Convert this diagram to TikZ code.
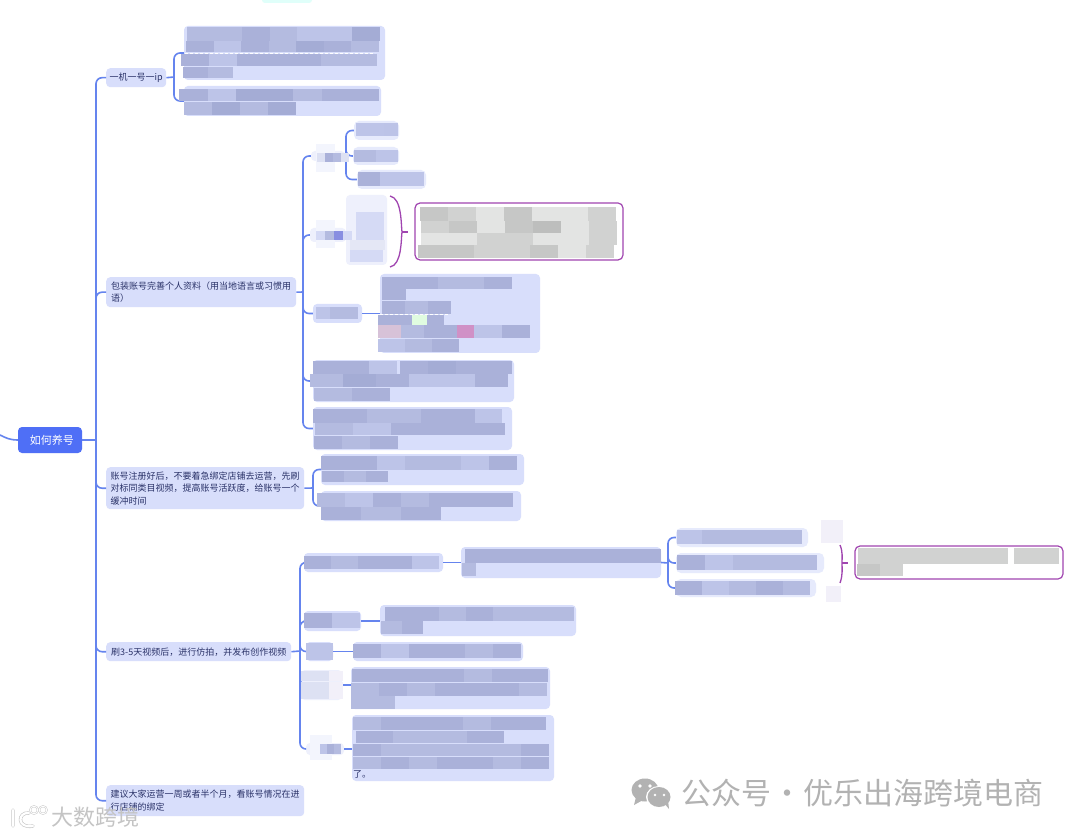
\documentclass[tikz,border=0pt]{standalone}
\usepackage{fontspec}
\setmainfont{Noto Sans CJK SC}
\usetikzlibrary{fit}
\definecolor{linkblue}{HTML}{6584EE}
\definecolor{boxblue}{HTML}{D8DEFB}
\definecolor{rootblue}{HTML}{4F6FF6}
\definecolor{faintbox}{HTML}{EEF0FC}
\definecolor{inktext}{HTML}{2A3268}
\definecolor{plum}{HTML}{A045B0}
\definecolor{pa}{HTML}{AAB1D9}
\definecolor{pb}{HTML}{B4BBE0}
\definecolor{pc}{HTML}{BDC4E8}
\definecolor{pd}{HTML}{A4ACD5}
\definecolor{fa}{HTML}{DDE1F3}
\definecolor{fb}{HTML}{F2F0F9}
\definecolor{fc}{HTML}{D5DAF5}
\definecolor{ga}{HTML}{C6C7C6}
\definecolor{gb}{HTML}{D1D2D1}
\definecolor{gc}{HTML}{E3E4E3}
\definecolor{gd}{HTML}{BDBEBD}
\definecolor{wmgray}{HTML}{B2B2B2}
\definecolor{wmedge}{HTML}{C4C4C4}
\tikzset{
  conn/.style={draw=linkblue,line width=1.6pt,rounded corners=6pt},
  stub/.style={draw=linkblue,line width=1.6pt},
  plumline/.style={draw=plum,line width=1.3pt},
  box/.style={fill=boxblue,rounded corners=4pt,inner sep=0pt},
  faint/.style={fill=faintbox,rounded corners=4pt,inner sep=0pt},
  palebox/.style={fill=boxblue!65,rounded corners=5pt,inner sep=0pt},
  sumbox/.style={draw=plum,line width=1.2pt,fill=white,rounded corners=5pt,inner sep=0pt},
  tbox/.style={fill=boxblue,rounded corners=4pt,anchor=north west,inner xsep=1.5pt,inner ysep=2pt,
     font=\fontsize{9}{12.5}\selectfont,text=inktext,align=left},
  rootbox/.style={fill=rootblue,rounded corners=4pt,inner sep=0pt},
}
\newcommand{\bx}[6][box]{\node[#1,fit={(#3,#4)(#5,#6)}] (#2) {};}
\newcommand{\cellrow}[5]{\foreach \c [count=\i from 0] in {#5}
  \fill[\c] ({#1+\i*#4},#2) rectangle ({#1+(\i+1)*#4},#3);}
\begin{document}
\begin{tikzpicture}[x=1pt,y=-1pt]
\useasboundingbox (0,0) rectangle (1080,837);
\fill[white] (0,0) rectangle (1080,837);
\bx[fill=green!15!cyan!12!white,rounded corners=3pt,inner sep=0pt]{topfrag}{262}{-4}{312}{3}
% root and first-level nodes
\node[rootbox,fit={(18,427)(82,453)}] (root) {};
\node[text=white,font=\fontsize{11}{13}\selectfont] (roottext) at (52,440) {如何养号};
\coordinate (rootin) at (0,435);
\coordinate (hubA) at (96,440);
\node[tbox,minimum width=60pt,minimum height=19pt,inner xsep=1pt] (n1) at (106,68) {一机一号一ip};
\node[tbox,minimum width=190pt,minimum height=30pt] (n2) at (106,277) {包装账号完善个人资料（用当地语言或习惯用\\语）};
\node[tbox,minimum width=198pt,minimum height=42pt] (n3) at (106,467) {账号注册好后，不要着急绑定店铺去运营，先刷\\对标同类目视频，提高账号活跃度，给账号一个\\缓冲时间};
\node[tbox,minimum width=185pt,minimum height=19pt] (n4) at (106,642) {刷3-5天视频后，进行仿拍，并发布创作视频};
\node[tbox,minimum width=198pt,minimum height=31pt] (n5) at (106,785) {建议大家运营一周或者半个月，看账号情况在进\\行店铺的绑定};
% branch 1
\bx{n11}{184}{26}{385}{80}
\bx{n12}{184}{86}{381}{116}
% branch 2
\bx[faint]{n21}{311}{151}{345}{161}
\fill[faintbox!70] (316,144) rectangle (335,172);
\bx[palebox]{n211}{354}{121}{399}{140}
\bx[palebox]{n212}{353}{147}{399}{165}
\bx[palebox]{n213}{357}{170}{426}{189}
\bx[faint]{n22}{310}{228}{346}{242}
\fill[faintbox!70] (316,220) rectangle (335,248);
\bx[faint]{n22c}{346}{195}{387}{265}
\bx[sumbox]{n22s}{415}{203}{623}{260}
\bx{n23}{313}{304}{362}{323}
\bx{n23c}{380}{274}{540}{353}
\bx{n24}{313}{360}{514}{402}
\bx{n25}{313}{407}{512}{450}
% branch 3
\bx{n31}{321}{454}{524}{485}
\bx{n32}{321}{491}{521}{521}
% branch 4
\bx{n41}{304}{553}{443}{572}
\bx{n41c}{461}{547}{661}{578}
\bx[palebox]{n411}{676}{528}{808}{547}
\bx[palebox]{n412}{676}{553}{824}{573}
\bx[palebox]{n413}{676}{579}{816}{597}
\bx[sumbox]{n41s}{855}{546}{1063}{579}
\bx{n42}{304}{611}{361}{631}
\bx{n42c}{380}{605}{576}{636}
\bx{n43}{306}{642}{333}{661}
\bx{n43c}{353}{642}{523}{661}
\bx[faint]{n44}{301}{670}{342}{700}
\bx{n44c}{351}{667}{550}{709}
\bx[faint]{n45}{306}{743}{344}{755}
\fill[faintbox!70] (310,735) rectangle (332,760);
\bx{n45c}{352}{715}{554}{781}
% connectors
\draw[conn] (rootin) .. controls (6,438) and (10,440) .. (root.west);
\draw[stub] (root.east) -- (hubA);
\foreach \t in {n1,n2,n3,n4,n5} \draw[conn] (hubA) |- (\t.west);
\coordinate (hubB) at (174,77);
\draw[stub] (n1.east) -- (hubB);
\foreach \t in {n11,n12} \draw[conn] (hubB) |- (\t.west);
\coordinate (hubC) at (303,292);
\draw[stub] (n2.east) -- (hubC);
\foreach \t in {n21,n22,n23,n24,n25} \draw[conn] (hubC) |- (\t.west);
\coordinate (hubD) at (346,156);
\draw[stub] (n21.east) -- (hubD);
\foreach \t in {n211,n212,n213} \draw[conn] (hubD) |- (\t.west);
\draw[stub] (n23.east) -- (n23c.west |- n23.east);
\coordinate (hubE) at (313,488);
\draw[stub] (n3.east) -- (hubE);
\foreach \t in {n31,n32} \draw[conn] (hubE) |- (\t.west);
\coordinate (hubF) at (300,651);
\draw[stub] (n4.east) -- (hubF);
\foreach \t in {n41,n42,n43,n44,n45} \draw[conn] (hubF) |- (\t.west);
\draw[stub] (n41.east) -- (n41c.west |- n41.east);
\coordinate (hubG) at (668,563);
\draw[stub] (n41c.east) -- (hubG);
\foreach \t in {n411,n412,n413} \draw[conn] (hubG) |- (\t.west);
\draw[stub] (n42.east) -- (n42c.west |- n42.east);
\draw[stub] (n43.east) -- (n43c.west |- n43.east);
\draw[stub] (n44.east) -- (n44c.west |- n44.east);
\draw[stub] (n45.east) -- (n45c.west |- n45.east);
% summary braces
\coordinate (brA) at (408,232);
\draw[plumline] (390,196) .. controls (402,198) and (401,225) .. (402,232) .. controls (401,239) and (402,265) .. (390,267);
\draw[plumline] (402,232) -- (brA);
\coordinate (brB) at (848,563);
\draw[plumline] (840,545) .. controls (843,552) and (842,558) .. (842,563) .. controls (842,568) and (843,575) .. (840,583);
\draw[plumline] (842,563) -- (brB);
% blurred text: branch 1
\cellrow{187}{27}{41}{27.5}{pb,pb,pa,pb,pc,pc,pd}
\cellrow{186}{41}{52}{27.5}{pa,pc,pa,pb,pd,pa,pb}
\draw[white,densely dashed,line width=0.7pt] (185,53) -- (375,53);
\cellrow{181}{54}{66}{28}{pa,pc,pa,pa,pa,pb,pb}
\cellrow{183}{67}{78}{25}{pa,pb}
\cellrow{179}{89}{101}{28.5}{pa,pc,pd,pd,pb,pa,pa}
\cellrow{184}{102}{115}{28}{pb,pd,pb,pd}
% branch 2
\cellrow{317}{153}{162}{8}{fa,pa,pb,fa}
\cellrow{356}{123}{136}{28}{pc}
\fill[pc!85!pb] (384,123) rectangle (398,136);
\cellrow{354}{150}{162}{22}{pb,pc}
\cellrow{358}{172}{186}{22}{pa,pc,pc}
\cellrow{316}{231}{240}{9}{fc,pb,pa!80!blue,fc}
\fill[fc] (356,212) rectangle (384,240);
\fill[fa!80] (350,240) rectangle (385,250);
\fill[fc] (350,250) rectangle (383,262);
\cellrow{420}{207}{221}{28}{ga,gb,gc,ga,gc,gc,gb}
\cellrow{421}{221}{233}{28}{gb,ga,gc,ga,gd,gc,gb}
\cellrow{421}{233}{245}{28}{gc,gc,gb,gb,gc,gc,gb}
\cellrow{418}{245}{258}{28}{ga,ga,gb,gb,ga,gc,gb}
\cellrow{316}{307}{319}{14}{pc,pb,pb}
% n23c
\cellrow{382}{277}{289}{28}{pa,pa,pb}
\cellrow{456}{277}{289}{28}{pb,pa}
\cellrow{382}{289}{300}{24}{pa}
\cellrow{382}{301}{314}{23}{pa,pb,pa}
\draw[white,densely dashed,line width=0.6pt] (380,314) -- (450,314);
\cellrow{378}{315}{325}{22}{pa,pa,pa}
\fill[black!10!green!12!white] (412,315) rectangle (427,325);
\cellrow{378}{325}{338}{23}{pc!60!pink,pb,pa,pa}
\fill[magenta!28!pc] (457,325) rectangle (474,338);
\cellrow{474}{325}{338}{28}{pc,pa}
\cellrow{378}{339}{352}{27}{pc,pb,pa}
% n24
\cellrow{313}{361}{374}{28}{pa,pa,pc}
\cellrow{400}{361}{374}{28}{pa,pd,pa,pa}
\cellrow{310}{374}{387}{33}{pb,pd,pa,pc,pc,pa}
\cellrow{314}{388}{401}{38}{pb,pa}
% n25
\cellrow{313}{409}{423}{27}{pa,pa,pb,pb,pa,pa,pc}
\cellrow{315}{423}{435}{38}{pb,pc,pa,pa,pa}
\cellrow{314}{436}{449}{28}{pa,pb,pa}
% branch 3
\cellrow{321}{456}{470}{28}{pa,pa,pc,pb,pb,pc,pa}
\cellrow{322}{471}{482}{22}{pa,pb,pa}
\cellrow{317}{493}{507}{28}{pb,pc,pa,pb,pa,pa,pa}
\cellrow{321}{507}{520}{40}{pa,pb,pa}
% branch 4
\cellrow{304}{556}{569}{27}{pa,pb,pa,pa,pc}
\cellrow{465}{549}{563}{28}{pa,pa,pa,pa,pa,pa,pa}
\fill[pb] (462,563) rectangle (476,576);
\cellrow{677}{530}{544}{25}{pc,pb,pb,pb,pb}
\cellrow{677}{555}{570}{28}{pa,pc,pb,pb,pb}
\cellrow{675}{581}{595}{27}{pa,pc,pb,pa,pb}
\fill[fb] (821,520) rectangle (843,543);
\fill[fb] (826,586) rectangle (841,602);
\cellrow{858}{548}{564}{25}{gb,gb,gb,gb,gb,gb}
\fill[gb] (1014,548) rectangle (1059,564);
\cellrow{857}{564}{576}{23}{ga,gb}
\cellrow{304}{613}{628}{28}{pa,pc}
\cellrow{385}{607}{621}{27}{pa,pa,pb,pa,pb,pb,pb}
\cellrow{381}{621}{634}{21}{pb,pa}
\cellrow{306}{643}{660}{13.5}{pc,pc}
\cellrow{353}{644}{658}{28}{pa,pc,pa,pa,pb,pa}
\cellrow{301}{671}{681}{14}{fa,fa,fb}
\cellrow{301}{682}{699}{14}{fa,fa,fb}
\cellrow{352}{669}{682}{28}{pa,pa,pa,pa,pb,pa,pa}
\cellrow{351}{683}{696}{28}{pb,pa,pb,pa,pa,pa,pb}
\cellrow{351}{696}{709}{22}{pb,pb}
\cellrow{320}{744}{754}{7}{pc,pa,pb}
\cellrow{353}{717}{730}{27.5}{pb,pa,pa,pa,pb,pa,pa}
\cellrow{356}{731}{743}{37}{pa,pb,pb,pa}
\cellrow{353}{744}{756}{28}{pa,pb,pb,pb,pb,pb,pa}
\cellrow{353}{757}{769}{28}{pb,pa,pb,pa,pa,pb,pa}
\node[text=inktext,font=\fontsize{9}{11}\selectfont,anchor=west,inner sep=0pt] (tail) at (353,774) {了。};
% watermarks
\node[anchor=west,inner sep=0pt,font=\fontsize{30}{34}\selectfont,text=wmgray] (wmtext) at (681,793) {公众号\makebox[32pt][c]{·}优乐出海跨境电商};
\fill[wmgray] (645,790) ellipse (13.5 and 11.5);
\fill[wmgray] (636,797) -- (634,805) -- (643,800) -- cycle;
\fill[white] (659,797) ellipse (13 and 11);
\fill[wmgray] (659,797) ellipse (11.5 and 10);
\fill[wmgray] (664,803) -- (669,809) -- (668,800) -- cycle;
\fill[white] (640,786) circle (1.8) (650,786) circle (1.8) (655,795) circle (1.4) (664,795) circle (1.4);
% left logo
\draw[wmedge,line width=3.4pt,line cap=round]
   (13,810) -- (13,826)
   (29,813) .. controls (17,812) and (17,829) .. (33,826);
\draw[white,line width=2.2pt,line cap=round]
   (13,810) -- (13,826)
   (29,813) .. controls (17,812) and (17,829) .. (33,826);
\draw[wmedge,line width=1.8pt] (34,810) circle (3.8) (43,810) circle (3.8);
\draw[white,line width=0.9pt] (34,810) circle (3.8) (43,810) circle (3.8);
\node[anchor=west,inner sep=0pt,font=\fontsize{22}{24}\selectfont,text=wmedge] (wmleft) at (51,817) {大数跨境};
\end{tikzpicture}
\end{document}
